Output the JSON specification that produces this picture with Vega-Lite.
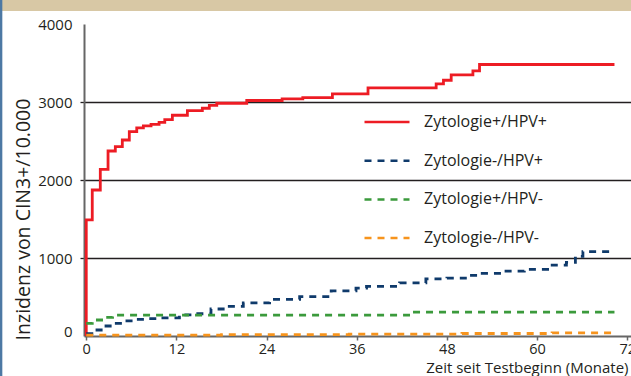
{
  "$schema": "https://vega.github.io/schema/vega-lite/v6.json",
  "width": 547,
  "height": 312,
  "autosize": {"type": "none"},
  "padding": {"left": 84, "top": 24, "right": 0, "bottom": 40},
  "background": "white",
  "config": {
    "view": {"stroke": null},
    "font": "Open Sans",
    "legend": {
      "orient": "none",
      "legendX": 279,
      "legendY": 88,
      "padding": 0,
      "symbolType": "stroke",
      "symbolSize": 2025,
      "symbolStrokeWidth": 2.5,
      "clipHeight": 20,
      "rowPadding": 18.7,
      "labelFontSize": 16,
      "labelOffset": 13,
      "labelColor": "#231f20",
      "labelLimit": 300
    }
  },
  "resolve": {"axis": {"x": "independent", "y": "independent"}},
  "layer": [
    {
      "data": {
        "values": [
          {"s": "Zytologie+/HPV+", "t": 0, "v": 0},
          {"s": "Zytologie+/HPV+", "t": 0, "v": 1490},
          {"s": "Zytologie+/HPV+", "t": 0.8, "v": 1872},
          {"s": "Zytologie+/HPV+", "t": 1.87, "v": 2137},
          {"s": "Zytologie+/HPV+", "t": 2.9, "v": 2372},
          {"s": "Zytologie+/HPV+", "t": 3.87, "v": 2427},
          {"s": "Zytologie+/HPV+", "t": 4.8, "v": 2513},
          {"s": "Zytologie+/HPV+", "t": 5.73, "v": 2620},
          {"s": "Zytologie+/HPV+", "t": 6.72, "v": 2668},
          {"s": "Zytologie+/HPV+", "t": 7.6, "v": 2694},
          {"s": "Zytologie+/HPV+", "t": 8.62, "v": 2714},
          {"s": "Zytologie+/HPV+", "t": 9.69, "v": 2740},
          {"s": "Zytologie+/HPV+", "t": 10.45, "v": 2775},
          {"s": "Zytologie+/HPV+", "t": 11.46, "v": 2830},
          {"s": "Zytologie+/HPV+", "t": 13.46, "v": 2890},
          {"s": "Zytologie+/HPV+", "t": 15.45, "v": 2920},
          {"s": "Zytologie+/HPV+", "t": 16.38, "v": 2958},
          {"s": "Zytologie+/HPV+", "t": 17.37, "v": 2984},
          {"s": "Zytologie+/HPV+", "t": 21.36, "v": 3019},
          {"s": "Zytologie+/HPV+", "t": 26.07, "v": 3040},
          {"s": "Zytologie+/HPV+", "t": 28.82, "v": 3057},
          {"s": "Zytologie+/HPV+", "t": 32.76, "v": 3105},
          {"s": "Zytologie+/HPV+", "t": 37.5, "v": 3182},
          {"s": "Zytologie+/HPV+", "t": 46.57, "v": 3233},
          {"s": "Zytologie+/HPV+", "t": 47.54, "v": 3279},
          {"s": "Zytologie+/HPV+", "t": 48.57, "v": 3349},
          {"s": "Zytologie+/HPV+", "t": 51.46, "v": 3400},
          {"s": "Zytologie+/HPV+", "t": 52.34, "v": 3481},
          {"s": "Zytologie+/HPV+", "t": 70.3, "v": 3481},

          {"s": "Zytologie-/HPV+", "t": 0, "v": 30},
          {"s": "Zytologie-/HPV+", "t": 1.0, "v": 77},
          {"s": "Zytologie-/HPV+", "t": 2.2, "v": 128},
          {"s": "Zytologie-/HPV+", "t": 3.6, "v": 163},
          {"s": "Zytologie-/HPV+", "t": 4.9, "v": 193},
          {"s": "Zytologie-/HPV+", "t": 6.6, "v": 214},
          {"s": "Zytologie-/HPV+", "t": 8.0, "v": 222},
          {"s": "Zytologie-/HPV+", "t": 9.9, "v": 232},
          {"s": "Zytologie-/HPV+", "t": 12.4, "v": 272},
          {"s": "Zytologie-/HPV+", "t": 14.2, "v": 285},
          {"s": "Zytologie-/HPV+", "t": 16.6, "v": 346},
          {"s": "Zytologie-/HPV+", "t": 18.5, "v": 381},
          {"s": "Zytologie-/HPV+", "t": 20.9, "v": 425},
          {"s": "Zytologie-/HPV+", "t": 24.4, "v": 469},
          {"s": "Zytologie-/HPV+", "t": 28.4, "v": 504},
          {"s": "Zytologie-/HPV+", "t": 32.6, "v": 579},
          {"s": "Zytologie-/HPV+", "t": 35.9, "v": 614},
          {"s": "Zytologie-/HPV+", "t": 37.3, "v": 636},
          {"s": "Zytologie-/HPV+", "t": 41.7, "v": 680},
          {"s": "Zytologie-/HPV+", "t": 45.2, "v": 732},
          {"s": "Zytologie-/HPV+", "t": 48.0, "v": 741},
          {"s": "Zytologie-/HPV+", "t": 50.8, "v": 776},
          {"s": "Zytologie-/HPV+", "t": 52.7, "v": 803},
          {"s": "Zytologie-/HPV+", "t": 55.3, "v": 833},
          {"s": "Zytologie-/HPV+", "t": 58.3, "v": 855},
          {"s": "Zytologie-/HPV+", "t": 61.4, "v": 908},
          {"s": "Zytologie-/HPV+", "t": 63.9, "v": 943},
          {"s": "Zytologie-/HPV+", "t": 65.1, "v": 1022},
          {"s": "Zytologie-/HPV+", "t": 66.1, "v": 1083},
          {"s": "Zytologie-/HPV+", "t": 70.3, "v": 1083},

          {"s": "Zytologie+/HPV-", "t": 0, "v": 163},
          {"s": "Zytologie+/HPV-", "t": 0.8, "v": 205},
          {"s": "Zytologie+/HPV-", "t": 2.4, "v": 240},
          {"s": "Zytologie+/HPV-", "t": 3.5, "v": 268},
          {"s": "Zytologie+/HPV-", "t": 42.9, "v": 307},
          {"s": "Zytologie+/HPV-", "t": 70.3, "v": 307},

          {"s": "Zytologie-/HPV-", "t": 0, "v": 12},
          {"s": "Zytologie-/HPV-", "t": 18, "v": 18},
          {"s": "Zytologie-/HPV-", "t": 35, "v": 25},
          {"s": "Zytologie-/HPV-", "t": 50, "v": 32},
          {"s": "Zytologie-/HPV-", "t": 62, "v": 40},
          {"s": "Zytologie-/HPV-", "t": 70.3, "v": 45}
        ]
      },
      "mark": {"type": "line", "interpolate": "step-after", "strokeWidth": 2.8},
      "encoding": {
        "x": {
          "field": "t",
          "type": "quantitative",
          "scale": {"domain": [-0.3, 72.5], "nice": false, "zero": false},
          "axis": {
            "values": [0, 12, 24, 36, 48, 60, 72],
            "format": "d",
            "title": "Zeit seit Testbeginn (Monate)",
            "grid": false,
            "domainColor": "#666666",
            "domainWidth": 2,
            "tickColor": "#666666",
            "tickSize": 4,
            "tickWidth": 1.5,
            "labelFontSize": 14.5,
            "labelColor": "#231f20",
            "labelPadding": 2,
            "labelFlush": false,
            "labelOverlap": false,
            "titleFontSize": 15,
            "titleFontWeight": "normal",
            "titleColor": "#231f20",
            "titleAnchor": "end",
            "titleAlign": "right",
            "titleX": 544,
            "titleY": 36,
            "titleBaseline": "alphabetic"
          }
        },
        "y": {
          "field": "v",
          "type": "quantitative",
          "scale": {"domain": [0, 4000], "nice": false},
          "axis": {
            "values": [0, 1000, 2000, 3000, 4000],
            "format": "d",
            "title": "Inzidenz von CIN3+/10.000",
            "grid": true,
            "gridColor": "#231f20",
            "gridWidth": 1.3,
            "gridOpacity": {"condition": {"test": "datum.value === 0 || datum.value === 4000", "value": 0}, "value": 1},
            "domainColor": "#666666",
            "domainWidth": 2,
            "tickColor": "#231f20",
            "tickSize": 4,
            "tickWidth": 1.3,
            "tickOpacity": {"condition": {"test": "datum.value === 0 || datum.value === 4000", "value": 0}, "value": 1},
            "labelFontSize": 15,
            "labelColor": "#231f20",
            "labelPadding": 8,
            "labelBaseline": {"condition": {"test": "datum.value === 0", "value": "alphabetic"}, "value": "middle"},
            "titleFontSize": 19.5,
            "titleFontWeight": "normal",
            "titleColor": "#231f20",
            "titleX": -55,
            "titleY": 195,
            "titleAlign": "center",
            "titleBaseline": "alphabetic"
          }
        },
        "color": {
          "field": "s",
          "type": "nominal",
          "title": null,
          "scale": {
            "domain": ["Zytologie+/HPV+", "Zytologie-/HPV+", "Zytologie+/HPV-", "Zytologie-/HPV-"],
            "range": ["#ed1c24", "#0f3a6b", "#3b9a3c", "#f7941d"]
          }
        },
        "strokeDash": {
          "field": "s",
          "type": "nominal",
          "title": null,
          "scale": {
            "domain": ["Zytologie+/HPV+", "Zytologie-/HPV+", "Zytologie+/HPV-", "Zytologie-/HPV-"],
            "range": [[1, 0], [7, 6], [7, 6], [7, 6]]
          }
        },
        "order": {"value": null}
      }
    },
    {
      "data": {"values": [{"part": "header"}]},
      "mark": {"type": "rect", "color": "#d8c8a5"},
      "encoding": {
        "x": {"datum": -12, "type": "quantitative", "scale": {"domain": [-0.3, 72.5], "nice": false, "zero": false}, "axis": null},
        "x2": {"datum": 74},
        "y": {"datum": 4168, "type": "quantitative", "scale": {"domain": [0, 4000], "nice": false}, "axis": null},
        "y2": {"datum": 4330}
      }
    },
    {
      "data": {"values": [{"part": "border"}]},
      "mark": {"type": "rect", "color": "#4d79a4"},
      "encoding": {
        "x": {"datum": -11.5, "type": "quantitative", "scale": {"domain": [-0.3, 72.5], "nice": false, "zero": false}, "axis": null},
        "x2": {"datum": -11.17},
        "y": {"datum": -600, "type": "quantitative", "scale": {"domain": [0, 4000], "nice": false}, "axis": null},
        "y2": {"datum": 4330}
      }
    }
  ]
}
